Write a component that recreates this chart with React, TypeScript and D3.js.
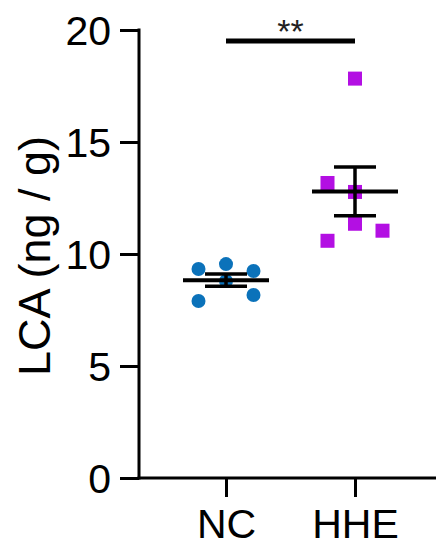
import React, { useEffect, useRef } from 'react';
import * as d3 from 'd3';

// values (ng / g)
const groups = ['NC', 'HHE'];
const ncValues = [9.33, 9.55, 9.24, 8.8, 7.9, 8.17];
const hheValues = [17.83, 13.17, 12.77, 11.35, 11.04, 10.59];
// scatter lane of each point (-1 left, 0 centre, 1 right)
const ncLane = [-1, 0, 1, 0, -1, 1];
const hheLane = [0, -1, 0, 0, 1, -1];
const yTicks = [0, 5, 10, 15, 20];
const significance = '**';

const FONT = '"Liberation Sans", Arial, sans-serif';

const App = () => {
  const ref = useRef<SVGSVGElement>(null);

  useEffect(() => {
    if (!ref.current) return;
    const width = 436;
    const axisX = 139;
    const axisY = 478;
    const top = 30;

    const svg = d3.select(ref.current);
    svg.selectAll('*').remove();

    const y = d3.scaleLinear().domain([0, 20]).range([axisY, top]);
    const x = d3.scalePoint<string>().domain(groups).range([226, 355]);
    const laneStep = 27.5;

    // y axis
    const gy = svg.append('g').attr('transform', `translate(${axisX},0)`)
      .call(d3.axisLeft(y).tickValues(yTicks).tickSize(19).tickPadding(9).tickSizeOuter(0));
    gy.select('.domain').attr('stroke-width', 3).attr('stroke', '#000')
      .attr('d', `M0,${y(20) - 1.5}V${axisY + 1.5}`);
    gy.selectAll('.tick line').attr('stroke-width', 3).attr('stroke', '#000');
    gy.selectAll('.tick text').attr('font-size', 41).attr('font-family', FONT).attr('fill', '#000')
      .attr('dy', '0.36em');

    // x axis
    const gx = svg.append('g').attr('transform', `translate(0,${axisY})`)
      .call(d3.axisBottom(x).tickSize(19).tickPadding(12).tickSizeOuter(0));
    gx.select('.domain').attr('stroke-width', 3).attr('stroke', '#000')
      .attr('d', `M${axisX - 1.5},0H${width}`);
    gx.selectAll('.tick line').attr('stroke-width', 3).attr('stroke', '#000');
    gx.selectAll('.tick text').attr('font-size', 41).attr('font-family', FONT).attr('fill', '#000');

    // y label
    svg.append('text')
      .attr('transform', `translate(50,${(y(0) + y(20)) / 2 + 2}) rotate(-90)`)
      .attr('text-anchor', 'middle')
      .attr('font-size', 45).attr('font-family', FONT)
      .text('LCA (ng / g)');

    const drawStats = (key: string, vals: number[]) => {
      const m = d3.mean(vals) as number;
      const sem = (d3.deviation(vals) as number) / Math.sqrt(vals.length);
      const cx = x(key) as number;
      const g = svg.append('g').attr('stroke', '#000').attr('fill', 'none');
      g.append('line').attr('x1', cx - 43).attr('x2', cx + 43).attr('y1', y(m)).attr('y2', y(m))
        .attr('stroke-width', 4);
      g.append('line').attr('x1', cx).attr('x2', cx).attr('y1', y(m + sem)).attr('y2', y(m - sem))
        .attr('stroke-width', 3.5);
      [m + sem, m - sem].forEach(v => {
        g.append('line').attr('x1', cx - 21).attr('x2', cx + 21).attr('y1', y(v)).attr('y2', y(v))
          .attr('stroke-width', 3.5);
      });
    };

    // NC circles
    svg.append('g').selectAll('circle')
      .data(ncValues)
      .join('circle')
      .attr('cx', (_d, i) => (x('NC') as number) + ncLane[i] * laneStep)
      .attr('cy', d => y(d))
      .attr('r', 7)
      .attr('fill', '#0B72BA');

    // HHE squares
    svg.append('g').selectAll('rect')
      .data(hheValues)
      .join('rect')
      .attr('x', (_d, i) => (x('HHE') as number) + hheLane[i] * laneStep - 7)
      .attr('y', d => y(d) - 7)
      .attr('width', 14)
      .attr('height', 14)
      .attr('fill', '#B30FE3');

    drawStats('NC', ncValues);
    drawStats('HHE', hheValues);

    // significance bar
    const barY = 41;
    svg.append('line')
      .attr('x1', x('NC') as number).attr('x2', x('HHE') as number)
      .attr('y1', barY).attr('y2', barY)
      .attr('stroke', '#000').attr('stroke-width', 5);
    svg.append('text')
      .attr('x', ((x('NC') as number) + (x('HHE') as number)) / 2)
      .attr('y', barY + 2)
      .attr('text-anchor', 'middle')
      .attr('font-size', 34).attr('font-family', FONT)
      .attr('fill', '#222')
      .text(significance);
  }, []);

  return (
    <svg ref={ref} width={436} height={546} viewBox="0 0 436 546"
      style={{ position: 'absolute', left: 0, top: 0, background: '#fff' }} />
  );
};

export default App;
